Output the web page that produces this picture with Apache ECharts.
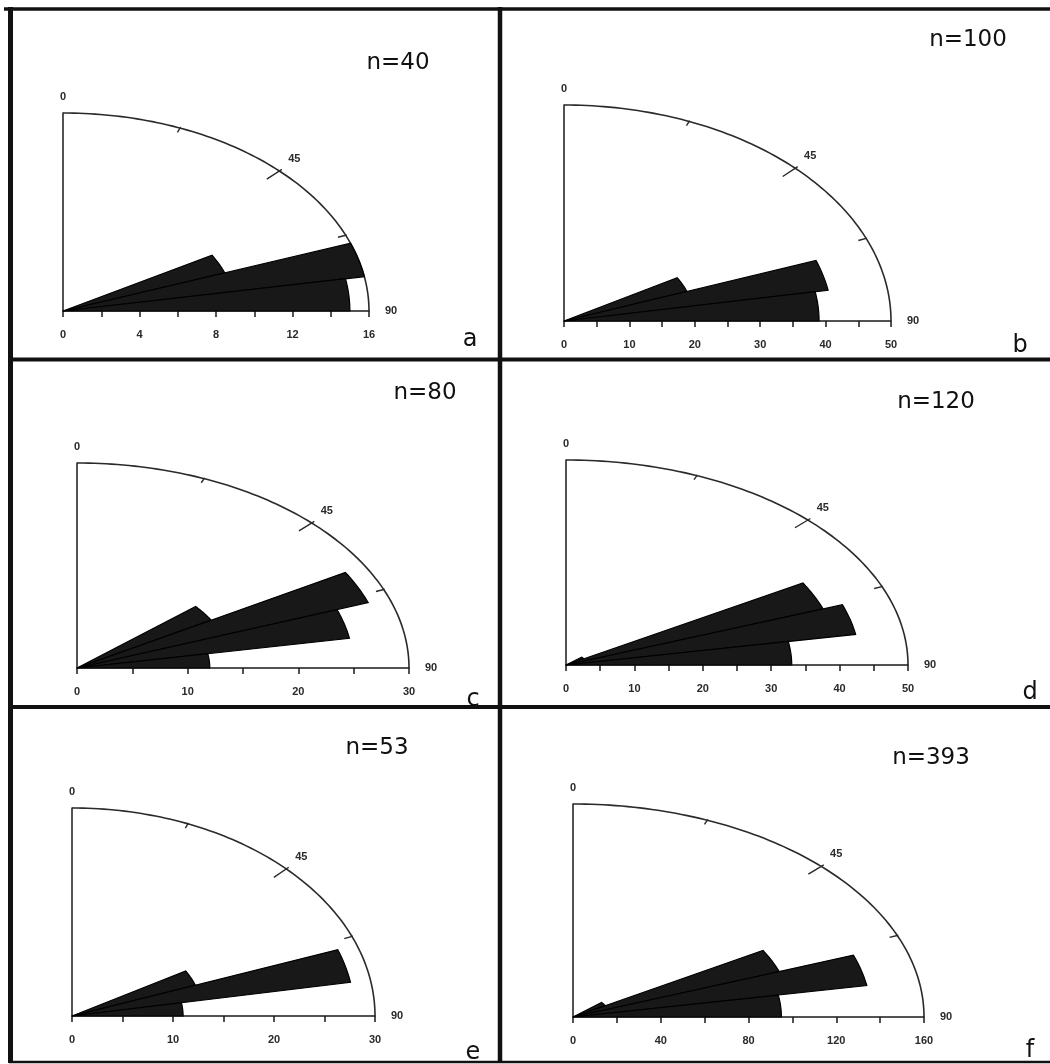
<!DOCTYPE html>
<html>
<head>
<meta charset="utf-8">
<script src="https://cdn.jsdelivr.net/npm/echarts@6/dist/echarts.min.js"></script>
<style>
  html, body { margin: 0; padding: 0; background: #fff; }
  #main { width: 1050px; height: 1064px; }
</style>
</head>
<body>
<div id="main"></div>
<script>
// bins are 10 deg wide, angle counted clockwise from 0 (top) to 90 (right)
var binStart = [40, 50, 60, 70, 80];
var binWidth = 10;

var valuesA = [0, 0, 9, 16, 15];
var valuesB = [0, 0, 20, 41, 39];
var valuesC = [0, 14, 28, 25, 12];
var valuesD = [0, 3, 40, 43, 33];
var valuesE = [0, 0, 13, 28, 11];
var valuesF = [0, 17, 100, 136, 95];

var panelValues = [valuesA, valuesB, valuesC, valuesD, valuesE, valuesF];
var panelLetters = ['a', 'b', 'c', 'd', 'e', 'f'];
var panelCounts = ['n=40', 'n=100', 'n=80', 'n=120', 'n=53', 'n=393'];
var radiusMax = [16, 50, 30, 50, 30, 160];
var radiusStep = [4, 10, 10, 10, 10, 40];
var angleTicks = [22.5, 45, 67.5];

// layout of each panel: centre of the quarter rose and its two half axes (px)
var boxes = [
  { cx: 63, cy: 311, rx: 306, ry: 198, nx: 398, ny: 63, lx: 470, ly: 340 },
  { cx: 564, cy: 321, rx: 327, ry: 216, nx: 968, ny: 40, lx: 1020, ly: 346 },
  { cx: 77, cy: 668, rx: 332, ry: 205, nx: 425, ny: 393, lx: 473, ly: 700 },
  { cx: 566, cy: 665, rx: 342, ry: 205, nx: 936, ny: 402, lx: 1030, ly: 693 },
  { cx: 72, cy: 1016, rx: 303, ry: 208, nx: 377, ny: 748, lx: 473, ly: 1053 },
  { cx: 573, cy: 1017, rx: 351, ry: 213, nx: 931, ny: 758, lx: 1030, ly: 1051 }
];

var ink = '#1a1a1a';
var smallText = { fontSize: 11, fontWeight: 'bold', color: '#2a2a2a', fontFamily: 'Liberation Sans' };

var chart = echarts.init(document.getElementById('main'));

function polarPoint(r, deg) {
  var t = deg * Math.PI / 180;
  return [r * Math.sin(t), r * Math.cos(t)];
}

function sectorItem(params, api) {
  var a0 = api.value(0), a1 = api.value(1), v = api.value(2);
  if (!v) return;
  var pts = [api.coord([0, 0])];
  for (var k = 0; k <= 24; k++) {
    pts.push(api.coord(polarPoint(v, a0 + (a1 - a0) * k / 24)));
  }
  return {
    type: 'polygon',
    shape: { points: pts },
    style: { fill: '#181818', stroke: '#000', lineWidth: 1.2 }
  };
}

function frameItem(maxR) {
  return function (params, api) {
    var children = [];
    var arc = [];
    for (var d = 0; d <= 90; d += 1) arc.push(api.coord(polarPoint(maxR, d)));
    children.push({
      type: 'polyline', shape: { points: arc },
      style: { stroke: '#2a2a2a', lineWidth: 1.6, fill: null }
    });
    var c = api.coord([0, 0]);
    angleTicks.forEach(function (deg) {
      var p = api.coord(polarPoint(maxR, deg));
      var dx = c[0] - p[0], dy = c[1] - p[1];
      var len = Math.sqrt(dx * dx + dy * dy);
      var L = deg === 45 ? 15 : (deg < 45 ? 5 : 8);
      var out = deg === 45 ? 3 : 1;
      children.push({
        type: 'line',
        shape: { x1: p[0] - dx / len * out, y1: p[1] - dy / len * out, x2: p[0] + dx / len * L, y2: p[1] + dy / len * L },
        style: { stroke: '#2a2a2a', lineWidth: 1.4 }
      });
    });
    var p45 = api.coord(polarPoint(maxR, 45));
    children.push({
      type: 'text',
      style: {
        text: '45', x: p45[0] + 15, y: p45[1] - 12, align: 'center', verticalAlign: 'middle',
        fontSize: 11, fontWeight: 'bold', fill: '#2a2a2a', fontFamily: 'Liberation Sans'
      }
    });
    return { type: 'group', children: children };
  };
}

var grids = [], xAxes = [], yAxes = [], series = [], graphics = [];

boxes.forEach(function (b, i) {
  grids.push({ left: b.cx, top: b.cy - b.ry, width: b.rx, height: b.ry });
  xAxes.push({
    type: 'value', gridIndex: i, min: 0, max: radiusMax[i], interval: radiusStep[i],
    axisLine: { show: true, onZero: false, lineStyle: { color: ink, width: 1.5 } },
    axisTick: { show: true, length: 6, lineStyle: { color: ink, width: 1.5 } },
    minorTick: { show: true, splitNumber: 2, length: 6, lineStyle: { color: ink, width: 1.5 } },
    axisLabel: Object.assign({ margin: 18 }, smallText),
    splitLine: { show: false },
    name: '90', nameLocation: 'end', nameGap: 16,
    nameTextStyle: Object.assign({ padding: [0, 0, 4, 0] }, smallText)
  });
  yAxes.push({
    type: 'value', gridIndex: i, min: 0, max: radiusMax[i],
    axisLine: { show: true, onZero: false, lineStyle: { color: ink, width: 1.5 } },
    axisTick: { show: false },
    axisLabel: { show: false },
    splitLine: { show: false },
    name: '0', nameLocation: 'end', nameGap: 11,
    nameTextStyle: smallText
  });

  var vals = panelValues[i];
  var sectors = binStart.map(function (s, k) { return [s, s + binWidth, vals[k]]; });
  series.push({
    type: 'custom', name: panelLetters[i] + '-frame', xAxisIndex: i, yAxisIndex: i,
    coordinateSystem: 'cartesian2d', clip: false, silent: true,
    renderItem: frameItem(radiusMax[i]),
    data: [[0, 0]], z: 1
  });
  series.push({
    type: 'custom', name: panelLetters[i], xAxisIndex: i, yAxisIndex: i,
    coordinateSystem: 'cartesian2d', clip: false,
    renderItem: sectorItem,
    encode: { x: 2, y: 2 },
    data: sectors, z: 2
  });

  graphics.push({
    type: 'text', x: b.nx, y: b.ny,
    style: { text: panelCounts[i], align: 'center', verticalAlign: 'middle',
      fontSize: 23, fontFamily: 'DejaVu Sans', fill: '#111' }
  });
  graphics.push({
    type: 'text', x: b.lx, y: b.ly,
    style: { text: panelLetters[i], align: 'center', verticalAlign: 'middle',
      fontSize: 24, fontFamily: 'DejaVu Sans', fill: '#111' }
  });
});

// panel frame lines
var frameLines = [
  [4, 9, 1050, 9, 3.5],
  [10.5, 7, 10.5, 1063, 5],
  [500, 7, 500, 1063, 4.5],
  [9, 359.5, 1050, 359.5, 4],
  [9, 707, 1050, 707, 4],
  [9, 1062, 1050, 1062, 2.5]
];
frameLines.forEach(function (l) {
  graphics.push({
    type: 'line', z: 100,
    shape: { x1: l[0], y1: l[1], x2: l[2], y2: l[3] },
    style: { stroke: '#111', lineWidth: l[4] }
  });
});

var option = {
  backgroundColor: '#fff',
  animation: false,
  grid: grids,
  xAxis: xAxes,
  yAxis: yAxes,
  series: series,
  graphic: graphics
};
chart.setOption(option);
</script>
</body>
</html>
